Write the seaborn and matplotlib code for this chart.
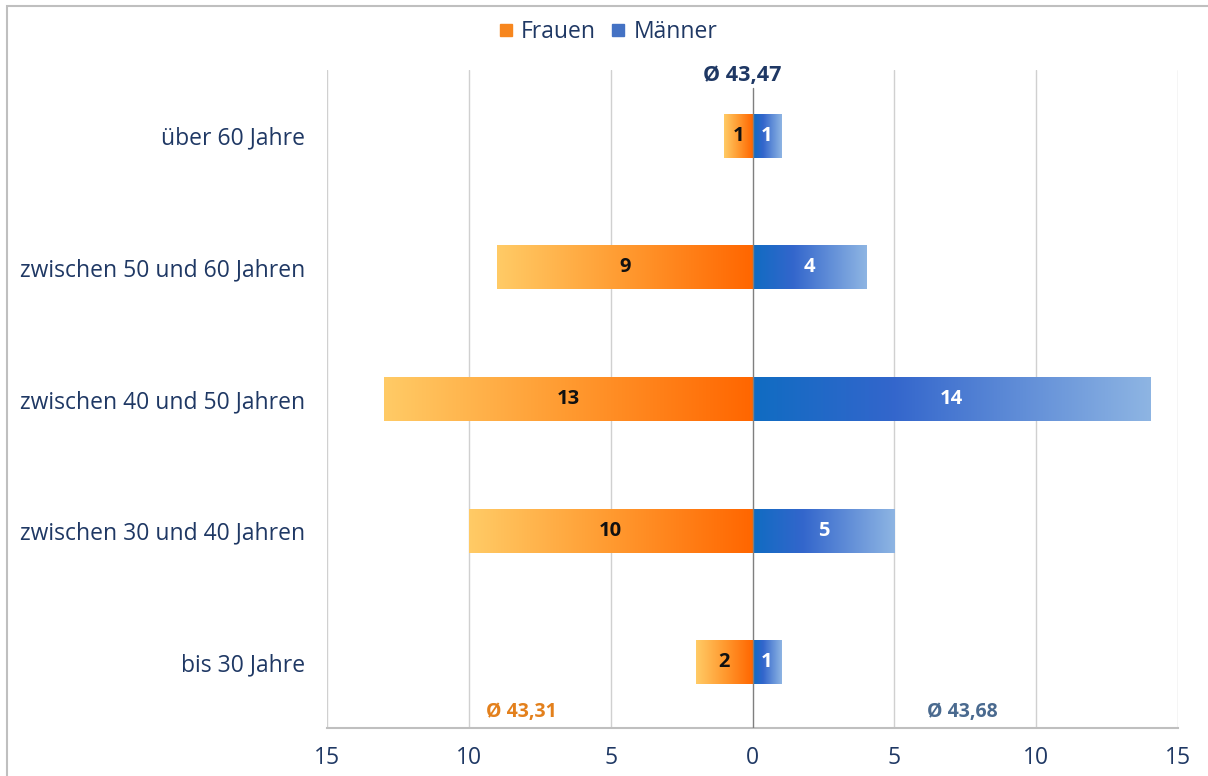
import numpy as np
import pandas as pd
import matplotlib
matplotlib.use("Agg")
import matplotlib.pyplot as plt
from matplotlib.colors import LinearSegmentedColormap
from matplotlib.patches import Rectangle
from matplotlib.lines import Line2D
import seaborn as sns

categories = ["über 60 Jahre", "zwischen 50 und 60 Jahren", "zwischen 40 und 50 Jahren",
              "zwischen 30 und 40 Jahren", "bis 30 Jahre"]
frauen = [1, 9, 13, 10, 2]
maenner = [1, 4, 14, 5, 1]
xticks = [-15, -10, -5, 0, 5, 10, 15]
xticklabels = ["15", "10", "5", "0", "5", "10", "15"]
avg_total = "Ø 43,47"
avg_frauen = "Ø 43,31"
avg_maenner = "Ø 43,68"

sns.set_theme(style="white")
plt.rcParams['font.family'] = ['Open Sans', 'DejaVu Sans']
NAVY = "#1F3864"

df = pd.DataFrame({
    "cat": categories * 2,
    "val": [-v for v in frauen] + maenner,
    "sex": ["Frauen"] * len(categories) + ["Männer"] * len(categories),
})

fig = plt.figure(figsize=(12.08, 7.76), dpi=100)
ax = fig.add_axes([327/1208, 1-728/776, (1178-327)/1208, (728-70)/776])

sns.barplot(data=df, y="cat", x="val", hue="sex", order=categories, orient="h",
            dodge=False, width=0.335, palette=["#FF8A20", "#3A6CC8"], ax=ax,
            legend=False, saturation=1)

cmap_f = LinearSegmentedColormap.from_list("f", ["#FFCB66", "#FF9A30", "#FF6600"])
cmap_m = LinearSegmentedColormap.from_list("m", [(0, "#106CC2"), (0.35, "#3366CC"), (1, "#8EB5E3")])
grad = np.linspace(0, 1, 256).reshape(1, -1)

for p in list(ax.patches):
    x0, y0 = p.get_x(), p.get_y()
    w, h = p.get_width(), p.get_height()
    if w == 0:
        continue
    xl, xr = min(x0, x0 + w), max(x0, x0 + w)
    cm = cmap_f if xl < 0 else cmap_m
    im = ax.imshow(grad, cmap=cm, aspect="auto", extent=[xl, xr, y0 + h, y0],
                   interpolation="bicubic", zorder=2)
    im.set_clip_path(p)
    p.set_facecolor("none")
    p.set_edgecolor("none")

ax.set_xlim(-15, 15)
ax.set_ylim(4.5, -0.5)
ax.set_aspect("auto")

# value labels
for i, (f, m) in enumerate(zip(frauen, maenner)):
    ax.text(-f / 2, i, str(f), ha="center", va="center", fontsize=14.5,
            fontweight="bold", color="#111111", zorder=5)
    ax.text(m / 2, i, str(m), ha="center", va="center", fontsize=14.5,
            fontweight="bold", color="white", zorder=5)

# grid
for xv in xticks:
    if xv == 0:
        continue
    ax.axvline(xv, color="#D0D0D0", lw=1, zorder=0)
ax.axvline(0, ymin=0, ymax=(728-88)/(728-70), color="#7F7F7F", lw=1, zorder=4)

ax.set_xticks(xticks)
ax.set_xticklabels(xticklabels)
ax.tick_params(axis="x", length=0, pad=13, labelsize=16.5, labelcolor=NAVY)
ax.tick_params(axis="y", length=0, pad=16, labelsize=16.5, labelcolor=NAVY)
ax.set_xlabel("")
ax.set_ylabel("")
for s in ["top", "left", "right"]:
    ax.spines[s].set_visible(False)
ax.spines["bottom"].set_color("#BFBFBF")
ax.spines["bottom"].set_linewidth(1.5)

# averages
fig.text(742/1208, 1-75/776, avg_total, ha="center", va="center", fontsize=15.5,
         fontweight="bold", color=NAVY)
fig.text(521/1208, 1-712/776, avg_frauen, ha="center", va="center", fontsize=14,
         fontweight="bold", color="#E3801C")
fig.text(962/1208, 1-712/776, avg_maenner, ha="center", va="center", fontsize=14,
         fontweight="bold", color="#4A6A8F")

# legend
handles = [Line2D([], [], marker="s", ls="", markersize=8, color="#F7861E", label="Frauen"),
           Line2D([], [], marker="s", ls="", markersize=8, color="#4472C4", label="Männer")]
leg = fig.legend(handles=handles, loc="center", bbox_to_anchor=(608/1208, 1-32/776), ncol=2,
                 frameon=False, fontsize=16.5, handletextpad=0.35, columnspacing=0.7,
                 handlelength=0.6)
for t in leg.get_texts():
    t.set_color(NAVY)

# outer border
fig.add_artist(Rectangle((7/1208, -0.1), 1.2, 1 - 6/776 + 0.1, transform=fig.transFigure,
                         fill=False, edgecolor="#BFBFBF", lw=1.5))

fig.savefig("out.png", dpi=100)
